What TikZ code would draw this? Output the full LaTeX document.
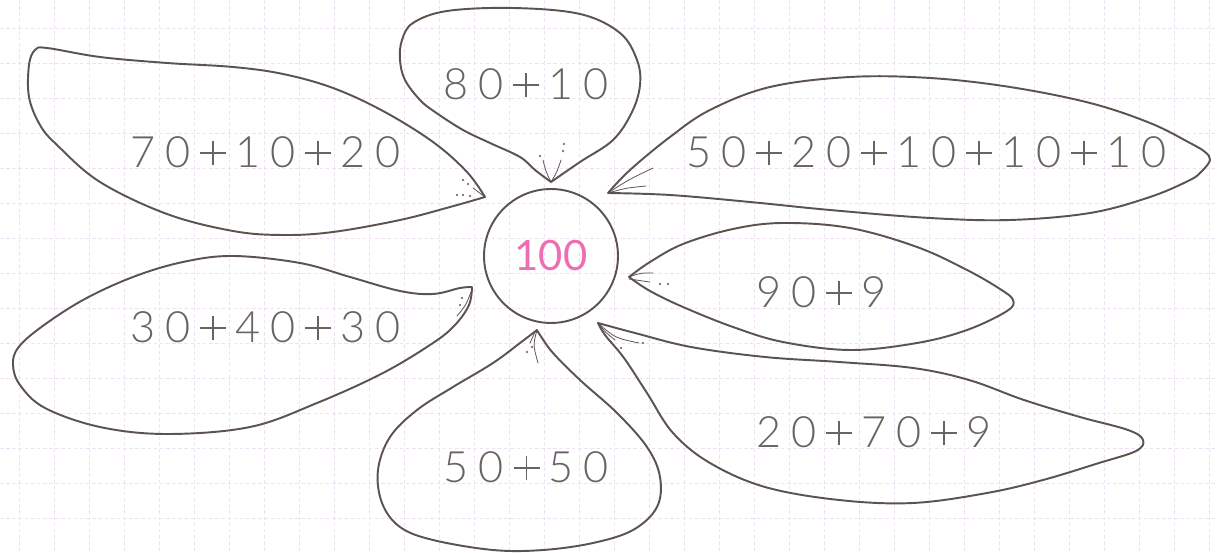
\documentclass[tikz,border=0pt]{standalone}
\usepackage{fontspec}
\setmainfont{Lato}
\newfontfamily\thinfont{Lato Light}
\definecolor{ink}{RGB}{92,82,82}
\definecolor{txtgray}{RGB}{105,100,100}
\definecolor{pinknum}{RGB}{238,110,178}
\definecolor{gridc}{RGB}{240,224,244}
\newlength\cellw \setlength\cellw{0.7cm}
\newcommand\plusglyph{\makebox[0pt]{\rule[\dimexpr0.28cm-0.55pt\relax]{0.52cm}{1.1pt}}\makebox[0pt]{\rule[0.04cm]{1.1pt}{0.48cm}}}
\def\gridtext#1{\gridtextaux#1\relax}
\def\gridtextaux#1{\ifx\relax#1\else\ifx+#1\makebox[\cellw]{\plusglyph}\else\makebox[\cellw]{#1}\fi\expandafter\gridtextaux\fi}
\tikzset{
  petal/.style={draw=ink, line width=1.1pt, line join=round, line cap=round},
  vein/.style={draw=ink, line width=0.45pt, line cap=round},
  veindot/.style={fill=ink},
  petaltext/.style={font=\thinfont\fontsize{24.6}{28}\selectfont, text=txtgray, inner sep=0pt},
  gridline/.style={draw=gridc, line width=0.5pt, dash pattern=on 2pt off 1.5pt},
  centre/.style={circle, draw=ink, line width=1.1pt, minimum size=2.68cm, inner sep=0pt,
                 text=pinknum, font=\fontsize{23.8}{28}\selectfont}
}
\begin{document}
\begin{tikzpicture}[x=0.02cm, y=-0.02cm]
\useasboundingbox (0,0) rectangle (1217,553);
\fill[white] (0,0) rectangle (1217,553);
% grid
\foreach \k in {0,...,34} { \draw[gridline] ({19+35*\k},0) -- ({19+35*\k},553); }
\foreach \k in {0,...,14} { \draw[gridline] (0,{28+35*\k}) -- (1217,{28+35*\k}); }

% centre
\node[centre] (c) at (551,256) {100};

% petals
% top
\draw[petal] plot[smooth, tension=0.6] coordinates {(551,182) (535,170) (520,157) (490,143) (463,130) (435,112) (420,100) (405,80) (400,60) (402,40) (413,23) (447,11) (513,8) (580,14) (620,33) (637,60) (640,85) (632,112) (613,140) (580,162) (551,182)};
% upper left
\draw[petal] plot[smooth, tension=0.6] coordinates {(485,197) (467,172) (433,142) (383,111) (333,88) (283,74) (233,67) (167,63) (100,57) (47,48) (35,50) (29,65) (29,97) (40,125) (57,145) (100,182) (167,214) (233,231) (283,235) (333,232) (400,220) (450,207) (485,197)};
% upper right
\draw[petal] plot[smooth, tension=0.6] coordinates {(608,193) (630,170) (670,137) (710,110) (770,87) (850,77) (930,78) (1010,87) (1090,103) (1150,123) (1190,143) (1205,152) (1210,160) (1202,171) (1190,180) (1150,197) (1090,213) (1010,220) (930,218) (830,210) (750,202) (670,195) (608,193)};
% right middle
\draw[petal] plot[smooth, tension=0.6] coordinates {(629,277) (650,262) (683,244) (733,229) (783,223) (850,228) (917,247) (967,270) (1000,289) (1013,300) (1007,311) (967,330) (917,343) (850,350) (783,342) (733,327) (683,307) (650,291) (629,277)};
% lower right
\draw[petal] plot[smooth, tension=0.6] coordinates {(598,323) (635,333) (691,347) (765,357) (839,362) (913,368) (969,380) (1024,400) (1080,417) (1128,430) (1143,440) (1136,451) (1099,463) (1043,480) (987,493) (913,503) (839,500) (765,487) (710,463) (673,433) (647,393) (624,358) (605,335) (598,323)};
% bottom
\draw[petal] plot[smooth, tension=0.6] coordinates {(537,330) (520,343) (493,363) (453,387) (417,410) (390,437) (378,470) (382,503) (400,527) (433,540) (493,550) (543,550) (593,543) (633,530) (657,507) (660,477) (647,447) (617,413) (580,380) (553,353) (540,335) (537,330)};
% lower left
\draw[petal] plot[smooth, tension=0.6] coordinates {(472,287) (469,305) (455,325) (433,343) (383,373) (317,403) (250,427) (167,434) (100,427) (45,408) (20,385) (13,365) (18,348) (40,328) (83,300) (133,277) (183,262) (233,256) (300,263) (350,277) (400,291) (433,294) (460,288) (472,287)};

% veins
\draw[vein] (551,182) .. controls (546,172) .. (543,160);
\draw[vein] (551,182) .. controls (557,172) .. (561,160);
\foreach \p in {(540,156),(563,151),(564,144)} \fill[veindot] \p circle (1.1);
\draw[vein] (485,197) -- (473,188);
\foreach \p in {(463,180),(468,184),(457,195),(463,195),(470,196)} \fill[veindot] \p circle (1.1);
\draw[vein] (608,193) .. controls (628,180) .. (653,168);
\draw[vein] (608,193) .. controls (626,188) .. (646,186);
\draw[vein] (629,277) .. controls (640,273) .. (653,273);
\draw[vein] (629,279) .. controls (640,281) .. (650,282);
\foreach \p in {(660,284),(668,284)} \fill[veindot] \p circle (1.1);
\draw[vein] (598,323) .. controls (605,332) .. (615,340);
\draw[vein] (598,323) .. controls (615,338) .. (639,343);
\foreach \p in {(611,342),(621,348),(643,343)} \fill[veindot] \p circle (1.1);
\draw[vein] (537,330) .. controls (533,345) .. (538,363);
\draw[vein] (535,332) -- (530,343);
\foreach \p in {(532,347),(527,352)} \fill[veindot] \p circle (1.1);
\draw[vein] (471,292) .. controls (466,305) .. (457,316);
\foreach \p in {(462,298),(460,305)} \fill[veindot] \p circle (1.1);

% texts
\node[petaltext] (t1) at (526,84) {\gridtext{80+10}};
\node[petaltext] (t2) at (265.5,152) {\gridtext{70+10+20}};
\node[petaltext] (t3) at (926.5,152) {\gridtext{50+20+10+10+10}};
\node[petaltext] (t4) at (821.5,292) {\gridtext{90+9}};
\node[petaltext] (t5) at (874,432) {\gridtext{20+70+9}};
\node[petaltext] (t6) at (526.5,467) {\gridtext{50+50}};
\node[petaltext] (t7) at (265.5,327) {\gridtext{30+40+30}};
\end{tikzpicture}
\end{document}
